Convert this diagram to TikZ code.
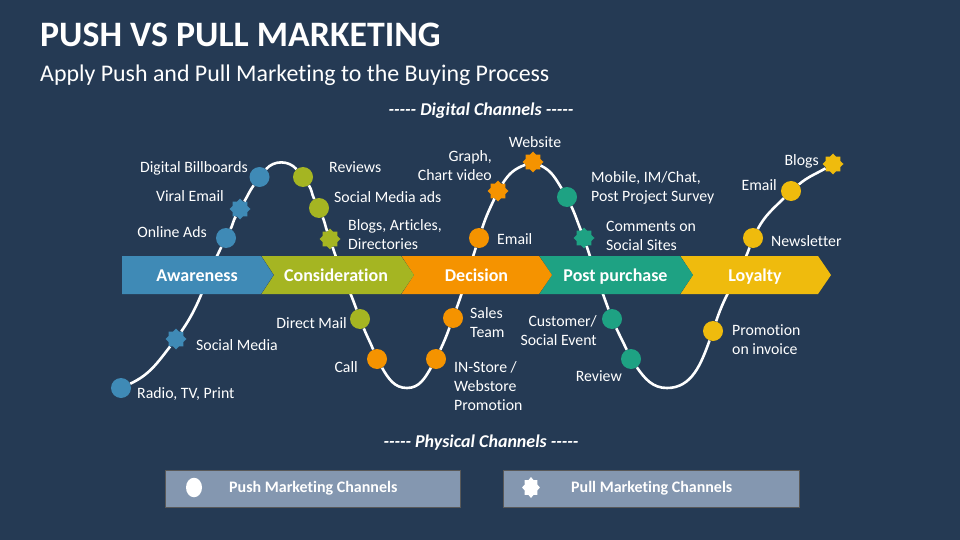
\documentclass[tikz,border=0pt]{standalone}
\usepackage{fontspec}
\setmainfont[Ligatures = NoCommon]{Carlito}
\usetikzlibrary{shapes.geometric}

\definecolor{bgblue}{HTML}{253A54}
\definecolor{cblue}{HTML}{3F8AB6}
\definecolor{cgreen}{HTML}{A5B522}
\definecolor{corange}{HTML}{F59300}
\definecolor{cteal}{HTML}{1EA283}
\definecolor{cyellow}{HTML}{EFBB0D}
\definecolor{cgrey}{HTML}{8497B0}

\newcommand{\fivedash}{{-}{-}{-}{-}{-}}

\tikzset{
	push/.style = {circle, fill = #1, inner sep = 0pt, minimum size = 20pt},
	pull/.style = {star, star points = 8, star point ratio = 1.32, fill = #1, inner sep = 0pt, minimum size = 21pt},
	lbl/.style = {text = white, font = \fontsize{15.8}{19}\selectfont, align = left, anchor = west, inner sep = 0pt},
	lblr/.style = {lbl, align = right, anchor = east},
	bandtext/.style = {text = white, font = \fontsize{18}{20}\selectfont\bfseries, anchor = base, inner sep = 0pt},
	legendbox/.style = {fill = cgrey, draw = black!65, line width = 0.6pt},
	legendtext/.style = {text = white, font = \fontsize{16}{17}\selectfont\bfseries, anchor = west, inner sep = 0pt},
	channel/.style = {text = white, font = \fontsize{18}{19}\selectfont\bfseries\itshape, inner sep = 0pt}
}

\begin{document}
\begin{tikzpicture}[x = 1pt, y = 1pt]

	\fill[bgblue] (0, 0) rectangle (960, -540);
	\useasboundingbox (0, 0) rectangle (960, -540);

	% title
	\node[text = white, font = \fontsize{35.8}{38}\selectfont\bfseries, anchor = west, inner sep = 0pt] (title) at (40, -34.5) {PUSH VS PULL MARKETING};
	\node[text = white, font = \fontsize{23.9}{26}\selectfont, anchor = west, inner sep = 0pt] (subtitle) at (40, -75.5) {Apply Push and Pull Marketing to the Buying Process};
	\node[channel] (digital) at (481, -110.5) {\fivedash{} Digital Channels \fivedash};
	\node[channel] (physical) at (481, -442.5) {\fivedash{} Physical Channels \fivedash};

	% points on the curve
	\node[push = cblue] (radio) at (121, -388) {};
	\node[pull = cblue] (social) at (176, -339) {};
	\node[push = cblue] (online) at (226, -238) {};
	\node[pull = cblue] (viral) at (240, -209) {};
	\node[push = cblue] (billboards) at (259.5, -177) {};
	\node[push = cgreen] (reviews) at (303, -177) {};
	\node[push = cgreen] (socialads) at (319, -208) {};
	\node[pull = cgreen] (blogsart) at (330, -239) {};
	\node[push = cgreen] (directmail) at (360, -319) {};
	\node[push = corange] (call) at (377, -359) {};
	\node[push = corange] (instore) at (436, -359) {};
	\node[push = corange] (sales) at (453, -318) {};
	\node[push = corange] (emailb) at (479, -238) {};
	\node[pull = corange] (graph) at (498, -191) {};
	\node[pull = corange] (website) at (533, -162) {};
	\node[push = cteal] (mobile) at (567, -197) {};
	\node[pull = cteal] (comments) at (584, -238) {};
	\node[push = cteal] (customer) at (612, -319) {};
	\node[push = cteal] (review) at (631, -359) {};
	\node[push = cyellow] (promotion) at (713, -331) {};
	\node[push = cyellow] (newsletter) at (753, -238) {};
	\node[push = cyellow] (emailc) at (791, -191) {};
	\node[pull = cyellow] (blogs) at (833, -164) {};

	% the curve, goes under the band
	\draw[white, line width = 2.6pt]
		(radio) to[out = 25, in = 232] (social)
		(social) to[out = 55, in = 243] (online)
		(online) to[out = 63, in = 240] (viral)
		(viral) to[out = 60, in = 235] (billboards)
		(billboards) to[out = 50, in = 130] (reviews)
		(reviews) to[out = -55, in = 118] (socialads)
		(socialads) to[out = -68, in = 110] (blogsart)
		(blogsart) to[out = -72, in = 110] (directmail)
		(directmail) to[out = -68, in = 112] (call)
		(call) to[out = -60, in = 180] (407, -388) to[out = 0, in = 240] (instore)
		(instore) to[out = 65, in = 250] (sales)
		(sales) to[out = 70, in = 252] (emailb)
		(emailb) to[out = 72, in = 245] (graph)
		(graph) to[out = 58, in = 200] (website)
		(website) to[out = -25, in = 122] (mobile)
		(mobile) to[out = -65, in = 112] (comments)
		(comments) to[out = -72, in = 110] (customer)
		(customer) to[out = -65, in = 115] (review)
		(review) to[out = -55, in = 180] (667, -388) to[out = 0, in = 250] (promotion)
		(promotion) to[out = 72, in = 250] (newsletter)
		(newsletter) to[out = 62, in = 225] (emailc)
		(emailc) to[out = 40, in = 210] (blogs);

	% band
	\foreach \xa/\xb/\bandcol/\bandname/\xc in {680/818/cyellow/Loyalty/755, 539/680/cteal/Post purchase/615.5, 401/539/corange/Decision/476.5, 261/401/cgreen/Consideration/336}{
		\fill[\bandcol] (\xa, -256) -- (\xb, -256) -- (\xb + 13, -275) -- (\xb, -294) -- (\xa, -294) -- (\xa + 12.5, -275) -- cycle;
		\draw[bgblue, line width = 0.5pt] (\xa, -256) -- (\xa + 12.5, -275) -- (\xa, -294);
		\node[bandtext] at (\xc, -281.3) {\bandname};
	}
	\fill[cblue] (122, -256) -- (261, -256) -- (273.5, -275) -- (261, -294) -- (122, -294) -- cycle;
	\node[bandtext] (awareness) at (197, -281.3) {Awareness};

	% labels
	\node[lblr] (l1) at (248, -168) {Digital Billboards};
	\node[lblr] (l2) at (224, -196) {Viral Email};
	\node[lblr] (l3) at (207, -232) {Online Ads};
	\node[lbl] (l4) at (196, -345) {Social Media};
	\node[lbl] (l5) at (137, -394) {Radio, TV, Print};
	\node[lbl] (l6) at (329, -167) {Reviews};
	\node[lbl] (l7) at (334, -197) {Social Media ads};
	\node[lbl] (l8) at (348, -234.5) {Blogs, Articles,\\Directories};
	\node[lblr] (l9) at (347, -323) {Direct Mail};
	\node[lblr] (l10) at (358, -367) {Call};
	\node[lbl] (l11) at (454, -386) {IN-Store /\\Webstore\\Promotion};
	\node[lbl] (l12) at (470, -323) {Sales\\Team};
	\node[lbl] (l13) at (497, -239) {Email};
	\node[lblr] (l14) at (492, -166) {Graph,\\Chart video};
	\node[text = white, font = \fontsize{15.8}{19}\selectfont, inner sep = 0pt] (l15) at (535, -142) {Website};
	\node[lbl] (l16) at (591, -188) {Mobile, IM/Chat,\\Post Project Survey};
	\node[lbl] (l17) at (606, -236) {Comments on\\Social Sites};
	\node[lblr] (l18) at (597, -331) {Customer/\\Social Event};
	\node[lblr] (l19) at (622, -376) {Review};
	\node[lbl] (l20) at (732, -340) {Promotion\\on invoice};
	\node[lbl] (l21) at (771, -241) {Newsletter};
	\node[lblr] (l22) at (777, -185) {Email};
	\node[lblr] (l23) at (819, -161) {Blogs};

	% legend
	\draw[legendbox] (165, -470) rectangle (460, -507);
	\draw[legendbox] (503, -470) rectangle (799, -507);
	\node[ellipse, fill = white, inner sep = 0pt, minimum width = 16pt, minimum height = 19.5pt] (pushkey) at (194, -487.5) {};
	\node[star, star points = 8, star point ratio = 1.32, fill = white, inner sep = 0pt, minimum size = 21pt, xscale = 0.85, transform shape] (pullkey) at (531, -487.5) {};
	\node[legendtext] (pushtext) at (229, -488) {Push Marketing Channels};
	\node[legendtext] (pulltext) at (571, -488) {Pull Marketing Channels};

\end{tikzpicture}
\end{document}
